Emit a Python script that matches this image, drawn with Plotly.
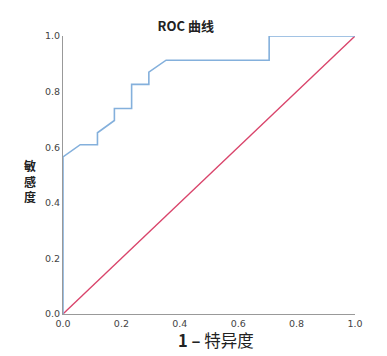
import plotly.graph_objects as go

# ROC curve points (1 - specificity, sensitivity)
fpr = [0.0, 0.0, 0.059, 0.118, 0.118, 0.176, 0.176, 0.235, 0.235, 0.294, 0.294, 0.353, 0.706, 0.706, 1.0]
tpr = [0.0, 0.565, 0.609, 0.609, 0.652, 0.696, 0.739, 0.739, 0.826, 0.826, 0.870, 0.913, 0.913, 1.0, 1.0]
ref_x = [0.0, 1.0]
ref_y = [0.0, 1.0]
tick_vals = [0.0, 0.2, 0.4, 0.6, 0.8, 1.0]
tick_text = ["0.0", "0.2", "0.4", "0.6", "0.8", "1.0"]

fig = go.Figure()
fig.add_trace(go.Scatter(x=ref_x, y=ref_y, mode="lines",
                         line=dict(color="#d9446b", width=1.3), showlegend=False))
fig.add_trace(go.Scatter(x=fpr, y=tpr, mode="lines",
                         line=dict(color="#84b0dc", width=1.6), showlegend=False))

cjk = "Noto Sans CJK SC"
fig.update_layout(
    width=387, height=356,
    margin=dict(l=63, r=32, t=36, b=42),
    paper_bgcolor="white", plot_bgcolor="white",
    title=dict(text="<b>ROC 曲线</b>", x=0.48, xanchor="center", y=0.925, yanchor="middle",
               font=dict(family=cjk, size=13, color="#222")),
    xaxis=dict(range=[0, 1], tickvals=tick_vals, ticktext=tick_text, showgrid=False,
               zeroline=False, showline=True, linecolor="#999", linewidth=1.2,
               ticks="", tickfont=dict(family="DejaVu Sans", size=9.5, color="#444"),
               fixedrange=True),
    yaxis=dict(range=[0, 1], tickvals=tick_vals, ticktext=tick_text, showgrid=False,
               zeroline=False, showline=True, linecolor="#999", linewidth=1.2,
               ticks="", tickfont=dict(family="DejaVu Sans", size=9.5, color="#444"),
               fixedrange=True),
    annotations=[
        dict(text="<b>敏<br>感<br>度</b>", xref="paper", yref="paper", x=-0.113, y=0.48,
             showarrow=False, font=dict(family=cjk, size=12, color="#222"),
             xanchor="center", yanchor="middle"),
        dict(text="<b>1 –</b> 特异度", xref="paper", yref="paper", x=0.525, y=-0.095,
             showarrow=False, font=dict(family=cjk, size=16.5, color="#222"),
             xanchor="center", yanchor="middle"),
    ],
)
fig.write_html("out.html", config={"displayModeBar": False},
               post_script="document.body.style.margin='0';")
